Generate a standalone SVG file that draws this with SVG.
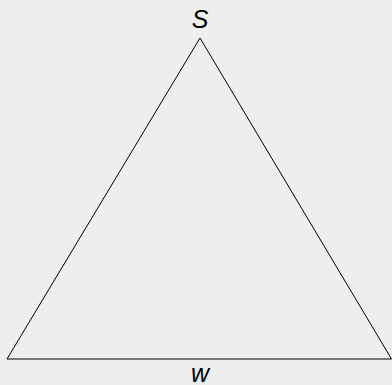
<svg xmlns="http://www.w3.org/2000/svg" width="392" height="385" viewBox="0 0 392 385">
<style>
.lbl{font-family:"Liberation Sans",Arial,sans-serif;font-size:25px;font-style:italic;fill:#000;text-anchor:middle}
.edge{stroke:#000;stroke-width:1;fill:none}
</style>
<rect width="392" height="385" fill="#eeeeee"/>
<g id="connectors">
<path class="edge" d="M200,38 L7,359"/>
<path class="edge" d="M200,38 L391.5,359"/>
<path class="edge" d="M7,359 L391.5,359"/>
</g>
<g id="node-S"><text class="lbl" x="200" y="28">S</text></g>
<g id="node-w"><text class="lbl" x="200" y="382">w</text></g>
</svg>
